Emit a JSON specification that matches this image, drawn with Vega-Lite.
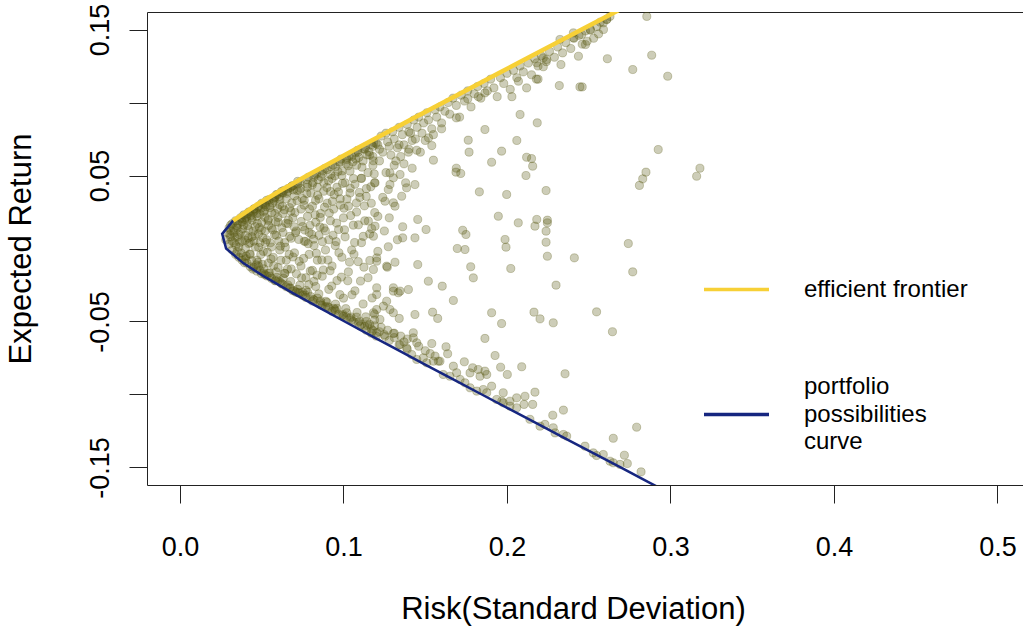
{
  "$schema": "https://vega.github.io/schema/vega-lite/v6.json",
  "autosize": "none",
  "padding": {"left": 147, "top": 12, "right": 0, "bottom": 151},
  "width": 876,
  "height": 473,
  "background": "white",
  "config": {
    "view": {"stroke": "#222", "strokeWidth": 1},
    "font": "Liberation Sans",
    "axis": {"labelFont": "Liberation Sans", "titleFont": "Liberation Sans", "labelColor": "black", "titleColor": "black", "tickColor": "#222", "domain": false, "grid": false, "labelFontSize": 27, "titleFontSize": 31, "titleFontWeight": "normal", "tickSize": 18, "labelFlush": false, "labelOverlap": false},
    "legend": {"labelFont": "Liberation Sans", "labelFontSize": 24, "labelColor": "black"}
  },
  "datasets": {
    "pts": [
      {"s":0.028,"r":0.006},{"s":0.029,"r":0.011},{"s":0.030,"r":0.003},{"s":0.030,"r":0.014},{"s":0.031,"r":0.008},{"s":0.032,"r":-0.001},{"s":0.032,"r":0.017},{"s":0.033,"r":0.011},{"s":0.033,"r":0.004},{"s":0.034,"r":-0.004},{"s":0.034,"r":0.019},{"s":0.035,"r":0.008},{"s":0.035,"r":0.014},{"s":0.036,"r":0.001},{"s":0.036,"r":-0.006},{"s":0.037,"r":0.021},{"s":0.037,"r":0.011},{"s":0.038,"r":0.005},{"s":0.038,"r":-0.008},{"s":0.039,"r":0.016},{"s":0.039,"r":0.023},{"s":0.040,"r":0.000},{"s":0.040,"r":0.009},{"s":0.041,"r":-0.010},{"s":0.041,"r":0.019},{"s":0.042,"r":0.013},{"s":0.042,"r":0.025},{"s":0.043,"r":0.004},{"s":0.043,"r":-0.004},{"s":0.044,"r":0.021},{"s":0.044,"r":0.008},{"s":0.045,"r":-0.013},{"s":0.045,"r":0.027},{"s":0.046,"r":0.015},{"s":0.046,"r":0.001},{"s":0.047,"r":0.022},{"s":0.047,"r":-0.008},{"s":0.048,"r":0.010},{"s":0.048,"r":0.029},{"s":0.049,"r":-0.015},{"s":0.049,"r":0.004},{"s":0.050,"r":0.018},{"s":0.050,"r":0.031},{"s":0.051,"r":-0.002},{"s":0.051,"r":0.025},{"s":0.052,"r":0.012},{"s":0.052,"r":-0.018},{"s":0.053,"r":0.033},{"s":0.053,"r":0.006},{"s":0.054,"r":-0.010},{"s":0.054,"r":0.020},{"s":0.055,"r":0.028},{"s":0.055,"r":-0.019},{"s":0.056,"r":0.014},{"s":0.056,"r":0.001},{"s":0.057,"r":0.034},{"s":0.057,"r":-0.006},{"s":0.058,"r":0.024},{"s":0.058,"r":-0.022},{"s":0.059,"r":0.009},{"s":0.059,"r":0.037},{"s":0.060,"r":-0.013},{"s":0.060,"r":0.018},{"s":0.061,"r":0.030},{"s":0.061,"r":-0.001},{"s":0.062,"r":-0.024},{"s":0.062,"r":0.039},{"s":0.063,"r":0.011},{"s":0.063,"r":0.024},{"s":0.064,"r":-0.017},{"s":0.064,"r":0.004},{"s":0.065,"r":0.034},{"s":0.065,"r":-0.008},{"s":0.066,"r":0.041},{"s":0.066,"r":0.017},{"s":0.067,"r":-0.027},{"s":0.067,"r":0.028},{"s":0.068,"r":0.007},{"s":0.068,"r":-0.014},{"s":0.069,"r":0.043},{"s":0.069,"r":0.021},{"s":0.070,"r":-0.003},{"s":0.070,"r":0.036},{"s":0.071,"r":-0.030},{"s":0.071,"r":0.012},
      {"s":0.045,"r":0.025},{"s":0.052,"r":0.030},{"s":0.058,"r":0.035},{"s":0.063,"r":0.038},{"s":0.068,"r":0.042},{"s":0.048,"r":-0.012},{"s":0.054,"r":-0.017},{"s":0.060,"r":-0.022},{"s":0.066,"r":-0.025},{"s":0.070,"r":-0.029},{"s":0.031,"r":0.016},{"s":0.036,"r":0.019},{"s":0.041,"r":0.022},{"s":0.040,"r":-0.007},{"s":0.035,"r":-0.002},
      {"s":0.0305,"r":0.0095},{"s":0.0318,"r":0.0052},{"s":0.0327,"r":0.0138},{"s":0.0342,"r":0.0021},{"s":0.0356,"r":0.0167},{"s":0.0361,"r":0.0098},{"s":0.0374,"r":-0.0031},{"s":0.0383,"r":0.0135},{"s":0.0395,"r":0.0198},{"s":0.0398,"r":0.0057},
      {"s":0.0405,"r":-0.0052},{"s":0.0412,"r":0.0157},{"s":0.0421,"r":0.0034},{"s":0.0433,"r":0.0224},{"s":0.0438,"r":-0.0083},{"s":0.0447,"r":0.0118},{"s":0.0452,"r":0.0051},{"s":0.0461,"r":0.0263},{"s":0.0466,"r":-0.0112},{"s":0.0473,"r":0.0172},{"s":0.0481,"r":0.0008},{"s":0.0489,"r":0.0236},{"s":0.0494,"r":-0.0041},{"s":0.0498,"r":0.0127},
      {"s":0.0507,"r":0.0073},{"s":0.0513,"r":-0.0139},{"s":0.0519,"r":0.0214},{"s":0.0526,"r":0.0287},{"s":0.0534,"r":-0.0025},{"s":0.0541,"r":0.0158},{"s":0.0547,"r":-0.0167},{"s":0.0552,"r":0.0039},{"s":0.0561,"r":0.0245},{"s":0.0566,"r":0.0311},{"s":0.0573,"r":-0.0118},{"s":0.0579,"r":0.0094},{"s":0.0585,"r":0.0182},{"s":0.0592,"r":-0.0198},{"s":0.0597,"r":0.0273},
      {"s":0.0604,"r":0.0051},{"s":0.0611,"r":0.0336},{"s":0.0617,"r":-0.0081},{"s":0.0623,"r":0.0142},{"s":0.0631,"r":-0.0203},{"s":0.0638,"r":0.0265},{"s":0.0644,"r":0.0009},{"s":0.0652,"r":0.0378},{"s":0.0657,"r":-0.0142},{"s":0.0663,"r":0.0195},{"s":0.0671,"r":0.0083},{"s":0.0677,"r":-0.0226},{"s":0.0684,"r":0.0312},{"s":0.0691,"r":-0.0058},{"s":0.0697,"r":0.0149},
      {"s":0.0703,"r":0.0247},{"s":0.0712,"r":-0.0173},{"s":0.0718,"r":0.0396},{"s":0.0726,"r":0.0062},{"s":0.0733,"r":-0.0251},{"s":0.0741,"r":0.0185},{"s":0.0748,"r":0.0342},{"s":0.0756,"r":-0.0068},{"s":0.0763,"r":0.0126},{"s":0.0771,"r":-0.0287},{"s":0.0779,"r":0.0419},{"s":0.0784,"r":0.0033},{"s":0.0792,"r":0.0271},{"s":0.0797,"r":-0.0154},
      {"s":0.0806,"r":0.0097},{"s":0.0813,"r":0.0452},{"s":0.0819,"r":-0.0225},{"s":0.0827,"r":0.0231},{"s":0.0834,"r":-0.0033},{"s":0.0842,"r":0.0364},{"s":0.0849,"r":-0.0311},{"s":0.0856,"r":0.0148},{"s":0.0863,"r":0.0491},{"s":0.0871,"r":0.0047},{"s":0.0877,"r":-0.0147},{"s":0.0884,"r":0.0283},{"s":0.0892,"r":-0.0362},{"s":0.0898,"r":0.0418},
      {"s":0.0905,"r":-0.0079},{"s":0.0913,"r":0.0243},{"s":0.0921,"r":0.0506},{"s":0.0928,"r":-0.0257},{"s":0.0936,"r":0.0091},{"s":0.0943,"r":0.0369},{"s":0.0951,"r":-0.0381},{"s":0.0958,"r":0.0174},{"s":0.0966,"r":0.0528},{"s":0.0972,"r":-0.0029},{"s":0.0981,"r":0.0297},{"s":0.0987,"r":-0.0196},{"s":0.0994,"r":0.0446},
      {"s":0.1006,"r":0.0128},{"s":0.1014,"r":-0.0412},{"s":0.1021,"r":0.0339},{"s":0.1029,"r":0.0567},{"s":0.1037,"r":-0.0093},{"s":0.1044,"r":0.0226},{"s":0.1052,"r":-0.0317},{"s":0.1061,"r":0.0479},{"s":0.1068,"r":0.0041},{"s":0.1076,"r":0.0613},{"s":0.1083,"r":-0.0438},{"s":0.1091,"r":0.0162},{"s":0.1097,"r":0.0384},
      {"s":0.1104,"r":-0.0223},{"s":0.1113,"r":0.0557},{"s":0.1121,"r":0.0083},{"s":0.1128,"r":0.0292},{"s":0.1136,"r":-0.0468},{"s":0.1144,"r":0.0641},{"s":0.1152,"r":0.0188},{"s":0.1161,"r":-0.0082},{"s":0.1167,"r":0.0423},{"s":0.1175,"r":-0.0339},{"s":0.1182,"r":0.0601},{"s":0.1191,"r":0.0246},
      {"s":0.043,"r":-0.0125},{"s":0.047,"r":-0.0155},{"s":0.051,"r":-0.0168},{"s":0.056,"r":-0.0205},{"s":0.061,"r":-0.0228},{"s":0.065,"r":-0.0262},{"s":0.069,"r":-0.0289},{"s":0.073,"r":-0.0305},{"s":0.077,"r":-0.0335},{"s":0.082,"r":-0.0352},{"s":0.086,"r":-0.0385},{"s":0.091,"r":-0.0405},{"s":0.095,"r":-0.0428},{"s":0.1,"r":-0.0465},{"s":0.104,"r":-0.0478},{"s":0.109,"r":-0.0505},{"s":0.113,"r":-0.0532},{"s":0.118,"r":-0.0562},
      {"s":0.0415,"r":0.0238},{"s":0.0455,"r":0.0272},{"s":0.0505,"r":0.0305},{"s":0.0545,"r":0.0335},{"s":0.0595,"r":0.0368},{"s":0.0635,"r":0.0398},{"s":0.0685,"r":0.0428},{"s":0.0735,"r":0.0455},{"s":0.0785,"r":0.0488},{"s":0.0835,"r":0.0512},{"s":0.0885,"r":0.0548},{"s":0.0935,"r":0.0572},{"s":0.0985,"r":0.0612},{"s":0.1035,"r":0.0633},{"s":0.1085,"r":0.0672},{"s":0.1135,"r":0.0695},{"s":0.1185,"r":0.0726},
      {"s":0.0312,"r":0.0121},{"s":0.0335,"r":0.0079},{"s":0.0348,"r":0.0156},{"s":0.0366,"r":0.0042},{"s":0.0379,"r":0.0182},{"s":0.0388,"r":-0.0057},{"s":0.0402,"r":0.0213},{"s":0.0417,"r":0.0071},{"s":0.0426,"r":-0.0038},{"s":0.0442,"r":0.0193},{"s":0.0458,"r":0.0089},{"s":0.0469,"r":0.0241},{"s":0.0477,"r":-0.0095},{"s":0.0486,"r":0.0143},{"s":0.0496,"r":0.0276},
      {"s":0.0503,"r":-0.0108},{"s":0.0516,"r":0.0258},{"s":0.0523,"r":0.0041},{"s":0.0538,"r":0.0192},{"s":0.0549,"r":0.0296},{"s":0.0557,"r":-0.0072},{"s":0.0568,"r":0.0127},{"s":0.0576,"r":0.0329},{"s":0.0588,"r":-0.0159},{"s":0.0599,"r":0.0213},{"s":0.0607,"r":0.0357},{"s":0.0614,"r":0.0016},{"s":0.0626,"r":0.0289},{"s":0.0641,"r":-0.0171},{"s":0.0648,"r":0.0173},{"s":0.0659,"r":0.0392},{"s":0.0668,"r":-0.0041},{"s":0.0679,"r":0.0254},{"s":0.0694,"r":0.0401},
      {"s":0.0707,"r":0.0108},{"s":0.0716,"r":0.0328},{"s":0.0729,"r":-0.0088},{"s":0.0738,"r":0.0412},{"s":0.0744,"r":-0.0201},{"s":0.0759,"r":0.0297},{"s":0.0768,"r":0.0048},{"s":0.0776,"r":0.0376},{"s":0.0788,"r":-0.0247},{"s":0.0795,"r":0.0159},{"s":0.0809,"r":0.0436},{"s":0.0817,"r":0.0064},{"s":0.0829,"r":0.0329},{"s":0.0838,"r":-0.0183},{"s":0.0846,"r":0.0472},{"s":0.0858,"r":0.0213},{"s":0.0867,"r":-0.0079},{"s":0.0879,"r":0.0392},{"s":0.0889,"r":0.0121},
      {"s":0.0909,"r":0.0463},{"s":0.0918,"r":-0.0152},{"s":0.0932,"r":0.0324},{"s":0.0947,"r":0.0497},{"s":0.0955,"r":0.0047},{"s":0.0969,"r":0.0388},{"s":0.0978,"r":-0.0316},{"s":0.0991,"r":0.0531},{"s":0.1003,"r":0.0276},{"s":0.1017,"r":0.0582},{"s":0.1026,"r":-0.0221},{"s":0.1041,"r":0.0413},{"s":0.1057,"r":0.0593},{"s":0.1064,"r":-0.0039},{"s":0.1079,"r":0.0312},{"s":0.1094,"r":0.0624},{"s":0.1108,"r":0.0481},{"s":0.1125,"r":-0.0128},{"s":0.1139,"r":0.0357},{"s":0.1156,"r":0.0662},{"s":0.1172,"r":0.0136},{"s":0.1188,"r":0.0511},
      {"s":0.0395,"r":-0.0098},{"s":0.0445,"r":-0.0141},{"s":0.0498,"r":-0.0172},{"s":0.0532,"r":-0.0188},{"s":0.0585,"r":-0.0221},{"s":0.0628,"r":-0.0245},{"s":0.0675,"r":-0.0271},{"s":0.0722,"r":-0.0302},{"s":0.0766,"r":-0.0319},{"s":0.0813,"r":-0.0348},{"s":0.0858,"r":-0.0371},{"s":0.0903,"r":-0.0398},{"s":0.0948,"r":-0.0419},{"s":0.0997,"r":-0.0452},{"s":0.1046,"r":-0.0469},{"s":0.1098,"r":-0.0497},{"s":0.1147,"r":-0.0526},
      {"s":0.0378,"r":0.0205},{"s":0.0428,"r":0.0251},{"s":0.0478,"r":0.0282},{"s":0.0528,"r":0.0316},{"s":0.0578,"r":0.0351},{"s":0.0624,"r":0.0382},{"s":0.0674,"r":0.0416},{"s":0.0722,"r":0.0442},{"s":0.0772,"r":0.0472},{"s":0.0822,"r":0.0503},{"s":0.0872,"r":0.0531},{"s":0.0922,"r":0.0561},{"s":0.0972,"r":0.0592},{"s":0.1022,"r":0.0622},{"s":0.1072,"r":0.0655},{"s":0.1122,"r":0.0682},{"s":0.1172,"r":0.0712},
      {"s":0.072,"r":0.046},{"s":0.073,"r":0.040},{"s":0.074,"r":0.027},{"s":0.074,"r":-0.012},{"s":0.075,"r":0.015},{"s":0.075,"r":-0.030},{"s":0.076,"r":0.005},{"s":0.076,"r":0.033},{"s":0.077,"r":-0.020},{"s":0.078,"r":0.044},{"s":0.078,"r":0.022},{"s":0.079,"r":-0.004},{"s":0.079,"r":0.011},{"s":0.080,"r":-0.033},{"s":0.080,"r":0.038},{"s":0.081,"r":0.029},{"s":0.081,"r":-0.015},{"s":0.082,"r":0.049},{"s":0.082,"r":0.002},{"s":0.083,"r":0.018},{"s":0.083,"r":-0.026},{"s":0.084,"r":0.042},{"s":0.084,"r":-0.008},{"s":0.085,"r":0.009},{"s":0.085,"r":0.034},{"s":0.086,"r":-0.036},{"s":0.086,"r":0.024},{"s":0.087,"r":0.051},{"s":0.087,"r":-0.019},{"s":0.088,"r":0.014},{"s":0.088,"r":0.045},{"s":0.089,"r":-0.001},{"s":0.089,"r":-0.040},{"s":0.090,"r":0.031},{"s":0.090,"r":0.054},{"s":0.091,"r":0.006},{"s":0.091,"r":-0.028},{"s":0.092,"r":0.039},{"s":0.092,"r":0.019},{"s":0.093,"r":-0.012},{"s":0.093,"r":0.048},{"s":0.094,"r":-0.041},{"s":0.094,"r":0.027},{"s":0.095,"r":0.056},{"s":0.095,"r":0.002},{"s":0.096,"r":-0.022},{"s":0.096,"r":0.042},{"s":0.097,"r":0.013},{"s":0.097,"r":-0.045},{"s":0.098,"r":0.034},{"s":0.098,"r":0.059},{"s":0.099,"r":-0.006},{"s":0.099,"r":0.050},{"s":0.100,"r":0.021},{"s":0.100,"r":-0.034},{"s":0.101,"r":0.045},{"s":0.101,"r":0.008},{"s":0.102,"r":0.061},{"s":0.102,"r":-0.047},{"s":0.103,"r":0.029},{"s":0.103,"r":-0.016},{"s":0.104,"r":0.053},{"s":0.104,"r":0.038},{"s":0.105,"r":-0.001},{"s":0.105,"r":0.063},{"s":0.106,"r":-0.050},{"s":0.106,"r":0.016},{"s":0.107,"r":0.044},{"s":0.107,"r":-0.029},{"s":0.108,"r":0.057},{"s":0.108,"r":0.025},{"s":0.109,"r":-0.009},{"s":0.109,"r":0.066},{"s":0.110,"r":0.035},{"s":0.110,"r":-0.053},{"s":0.111,"r":0.048},{"s":0.111,"r":0.004},{"s":0.112,"r":0.060},{"s":0.112,"r":-0.038},{"s":0.113,"r":0.019},{"s":0.113,"r":0.068},{"s":0.114,"r":0.041},{"s":0.114,"r":-0.056},{"s":0.115,"r":0.052},{"s":0.115,"r":-0.020},{"s":0.116,"r":0.064},{"s":0.116,"r":0.010},{"s":0.117,"r":-0.058},{"s":0.117,"r":0.031},{"s":0.118,"r":0.070},{"s":0.118,"r":0.057},{"s":0.119,"r":-0.045},{"s":0.119,"r":0.045},{"s":0.120,"r":0.072},{"s":0.120,"r":-0.060},{"s":0.121,"r":0.022},
      {"s":0.121,"r":0.071},{"s":0.123,"r":0.077},{"s":0.124,"r":0.066},{"s":0.126,"r":0.079},{"s":0.127,"r":0.073},{"s":0.129,"r":0.064},{"s":0.130,"r":0.080},{"s":0.131,"r":0.075},{"s":0.133,"r":0.069},{"s":0.134,"r":0.083},{"s":0.136,"r":0.078},{"s":0.137,"r":0.071},{"s":0.139,"r":0.085},{"s":0.140,"r":0.080},{"s":0.142,"r":0.074},{"s":0.143,"r":0.088},{"s":0.145,"r":0.083},{"s":0.146,"r":0.090},{"s":0.148,"r":0.079},{"s":0.149,"r":0.086},{"s":0.151,"r":0.093},{"s":0.152,"r":0.088},{"s":0.154,"r":0.082},{"s":0.156,"r":0.095},{"s":0.157,"r":0.090},{"s":0.159,"r":0.097},{"s":0.160,"r":0.086},{"s":0.162,"r":0.094},{"s":0.164,"r":0.100},{"s":0.165,"r":0.092},{"s":0.167,"r":0.103},{"s":0.169,"r":0.098},{"s":0.171,"r":0.090},{"s":0.172,"r":0.105},{"s":0.174,"r":0.101},{"s":0.176,"r":0.108},{"s":0.178,"r":0.097},{"s":0.180,"r":0.106},{"s":0.182,"r":0.111},{"s":0.184,"r":0.103},{"s":0.186,"r":0.113},{"s":0.188,"r":0.108},{"s":0.190,"r":0.116},{"s":0.192,"r":0.110},{"s":0.194,"r":0.104},{"s":0.196,"r":0.117},{"s":0.198,"r":0.113},{"s":0.200,"r":0.120},{"s":0.202,"r":0.109},{"s":0.204,"r":0.122},{"s":0.206,"r":0.117},{"s":0.208,"r":0.125},{"s":0.210,"r":0.121},{"s":0.213,"r":0.127},{"s":0.215,"r":0.119},{"s":0.217,"r":0.130},{"s":0.219,"r":0.125},{"s":0.221,"r":0.132},{"s":0.224,"r":0.128},{"s":0.226,"r":0.135},{"s":0.229,"r":0.131},{"s":0.231,"r":0.138},{"s":0.234,"r":0.134},{"s":0.236,"r":0.141},{"s":0.239,"r":0.137},{"s":0.241,"r":0.144},{"s":0.244,"r":0.146},{"s":0.246,"r":0.140},{"s":0.248,"r":0.149},{"s":0.251,"r":0.150},{"s":0.253,"r":0.144},{"s":0.255,"r":0.152},{"s":0.257,"r":0.155},{"s":0.259,"r":0.150},{"s":0.261,"r":0.157},{"s":0.263,"r":0.159},{"s":0.256,"r":0.147},{"s":0.249,"r":0.142},{"s":0.233,"r":0.126},{"s":0.218,"r":0.116},{"s":0.203,"r":0.104},
      {"s":0.072,"r":-0.028},{"s":0.075,"r":-0.032},{"s":0.078,"r":-0.030},{"s":0.081,"r":-0.036},{"s":0.084,"r":-0.034},{"s":0.087,"r":-0.039},{"s":0.090,"r":-0.037},{"s":0.093,"r":-0.043},{"s":0.096,"r":-0.041},{"s":0.099,"r":-0.046},{"s":0.102,"r":-0.044},{"s":0.105,"r":-0.049},{"s":0.108,"r":-0.047},{"s":0.111,"r":-0.052},{"s":0.114,"r":-0.050},{"s":0.117,"r":-0.055},{"s":0.119,"r":-0.053},{"s":0.122,"r":-0.057},{"s":0.125,"r":-0.059},{"s":0.128,"r":-0.063},{"s":0.131,"r":-0.061},{"s":0.134,"r":-0.066},{"s":0.137,"r":-0.064},{"s":0.139,"r":-0.069},
      {"s":0.116,"r":-0.052},{"s":0.119,"r":-0.049},{"s":0.123,"r":-0.054},{"s":0.127,"r":-0.056},{"s":0.131,"r":-0.058},{"s":0.135,"r":-0.060},{"s":0.139,"r":-0.062},{"s":0.146,"r":-0.067},{"s":0.150,"r":-0.070},{"s":0.153,"r":-0.072},
      {"s":0.1203,"r":-0.0577},{"s":0.1254,"r":-0.0601},{"s":0.1305,"r":-0.0582},{"s":0.1427,"r":-0.0577},{"s":0.1427,"r":-0.0612},{"s":0.1448,"r":-0.0646},{"s":0.1346,"r":-0.0658},{"s":0.1386,"r":-0.068},{"s":0.1417,"r":-0.0726},{"s":0.1448,"r":-0.076},{"s":0.1488,"r":-0.0749},{"s":0.1509,"r":-0.0783},{"s":0.155,"r":-0.0772},{"s":0.159,"r":-0.0772},{"s":0.161,"r":-0.0863},{"s":0.1651,"r":-0.0875},{"s":0.1692,"r":-0.0851},{"s":0.1713,"r":-0.0897},{"s":0.1743,"r":-0.092},{"s":0.1774,"r":-0.0954},{"s":0.1815,"r":-0.0977},{"s":0.1855,"r":-0.0966},{"s":0.1876,"r":-0.0988},{"s":0.1937,"r":-0.1034},{"s":0.1977,"r":-0.1057},{"s":0.2018,"r":-0.108},{"s":0.2059,"r":-0.1091},
      {"s":0.1865,"r":-0.0616},{"s":0.1927,"r":-0.0733},{"s":0.209,"r":-0.081},{"s":0.1961,"r":-0.0813},{"s":0.2002,"r":-0.0863},{"s":0.154,"r":-0.0651},{"s":0.1627,"r":-0.0673},{"s":0.1637,"r":-0.0721},{"s":0.158,"r":-0.0772},{"s":0.156,"r":-0.0737},{"s":0.1672,"r":-0.0806},{"s":0.1739,"r":-0.0776},{"s":0.179,"r":-0.0817},{"s":0.1824,"r":-0.0829},{"s":0.1865,"r":-0.084},{"s":0.1876,"r":-0.0863},{"s":0.1835,"r":-0.0875},{"s":0.1774,"r":-0.0852},{"s":0.1906,"r":-0.0943},{"s":0.1977,"r":-0.0988},{"s":0.2059,"r":-0.1023},{"s":0.211,"r":-0.1012},{"s":0.2104,"r":-0.1068},{"s":0.2018,"r":-0.1046},{"s":0.1968,"r":-0.1046},
      {"s":0.2202,"r":-0.1217},{"s":0.2232,"r":-0.1205},{"s":0.2283,"r":-0.1228},{"s":0.2294,"r":-0.1263},{"s":0.2345,"r":-0.1274},{"s":0.2365,"r":-0.1285},{"s":0.2477,"r":-0.1354},{"s":0.2528,"r":-0.14},{"s":0.2548,"r":-0.1418},{"s":0.2589,"r":-0.1411},{"s":0.263,"r":-0.1457},{"s":0.265,"r":-0.1468},{"s":0.2691,"r":-0.1479},{"s":0.214,"r":-0.117},
      {"s":0.2645,"r":-0.057},{"s":0.2355,"r":-0.0858},{"s":0.2171,"r":-0.0984},{"s":0.2157,"r":-0.1068},{"s":0.228,"r":-0.1142},{"s":0.2345,"r":-0.1107},{"s":0.2793,"r":-0.1224},{"s":0.265,"r":-0.13},{"s":0.2718,"r":-0.1416},{"s":0.2736,"r":-0.1473},{"s":0.282,"r":-0.153},
      {"s":0.208,"r":0.0918},{"s":0.212,"r":0.110},{"s":0.207,"r":0.1146},{"s":0.1865,"r":0.0815},{"s":0.1763,"r":0.0742},{"s":0.1768,"r":0.066},{"s":0.1967,"r":0.0667},{"s":0.206,"r":0.074},{"s":0.1906,"r":0.0591},{"s":0.212,"r":0.0625},{"s":0.155,"r":0.0605},{"s":0.154,"r":0.0705},{"s":0.1448,"r":0.0673},{"s":0.1397,"r":0.066},{"s":0.169,"r":0.0895},{"s":0.169,"r":0.055},{"s":0.176,"r":0.1025},{"s":0.1825,"r":0.104},{"s":0.1865,"r":0.1066},{"s":0.152,"r":0.0758},
      {"s":0.2855,"r":0.159},{"s":0.251,"r":0.1495},{"s":0.248,"r":0.1397},{"s":0.2437,"r":0.1317},{"s":0.2614,"r":0.130},{"s":0.2885,"r":0.1324},{"s":0.2769,"r":0.1226},{"s":0.2983,"r":0.118},{"s":0.2446,"r":0.1107},{"s":0.246,"r":0.1107},{"s":0.232,"r":0.1116},{"s":0.219,"r":0.116},{"s":0.2185,"r":0.0861},{"s":0.2925,"r":0.0678},{"s":0.215,"r":0.0616},{"s":0.2157,"r":0.0564},{"s":0.318,"r":0.055},{"s":0.2222,"r":0.1306},{"s":0.2243,"r":0.1295},{"s":0.2222,"r":0.1245},{"s":0.2182,"r":0.1272},{"s":0.2324,"r":0.1432},{"s":0.2406,"r":0.1443},{"s":0.2406,"r":0.1477},{"s":0.2457,"r":0.1466},{"s":0.2589,"r":0.1546},{"s":0.261,"r":0.1568},
      {"s":0.285,"r":0.0523},{"s":0.283,"r":0.0477},{"s":0.281,"r":0.0432},{"s":0.316,"r":0.0495},{"s":0.2239,"r":0.0397},{"s":0.2182,"r":0.0199},{"s":0.2171,"r":0.0153},{"s":0.2247,"r":0.0194},{"s":0.2247,"r":0.0176},{"s":0.2239,"r":0.0119},{"s":0.2239,"r":0.0043},{"s":0.2247,"r":-0.0053},{"s":0.2412,"r":-0.0064},{"s":0.2742,"r":0.0034},{"s":0.2769,"r":-0.016},{"s":0.23,"r":-0.0251},{"s":0.2165,"r":-0.0436},{"s":0.2202,"r":-0.0482},{"s":0.2283,"r":-0.0509},{"s":0.2548,"r":-0.0434},
      {"s":0.1688,"r":0.0523},{"s":0.1717,"r":0.0514},{"s":0.1831,"r":0.0388},{"s":0.1998,"r":0.037},{"s":0.2116,"r":0.05},{"s":0.1947,"r":0.0221},{"s":0.2069,"r":0.0176},{"s":0.1988,"r":0.0062},{"s":0.1994,"r":0.0009},{"s":0.1729,"r":0.0125},{"s":0.1749,"r":0.0096},{"s":0.1696,"r":0.0},{"s":0.1743,"r":-0.0007},{"s":0.1778,"r":-0.0125},{"s":0.1794,"r":-0.0201},{"s":0.2023,"r":-0.0137},{"s":0.1454,"r":0.0199},{"s":0.1505,"r":0.013},{"s":0.1437,"r":0.0073},{"s":0.1362,"r":0.0149},{"s":0.1362,"r":0.0073},{"s":0.1274,"r":0.0012},{"s":0.1454,"r":-0.011},{"s":0.1315,"r":-0.0094},{"s":0.1268,"r":-0.0128},{"s":0.1519,"r":-0.0224},{"s":0.1604,"r":-0.0258},{"s":0.1672,"r":-0.0356},{"s":0.1906,"r":-0.044},{"s":0.1967,"r":-0.0514},{"s":0.1545,"r":-0.0436},{"s":0.1576,"r":-0.0479},{"s":0.1437,"r":-0.0452},{"s":0.1341,"r":-0.0479},{"s":0.1397,"r":-0.0281},{"s":0.1335,"r":-0.0303},{"s":0.1305,"r":-0.0269},{"s":0.1437,"r":0.0438},{"s":0.1386,"r":0.0416},{"s":0.1356,"r":0.0358},{"s":0.1305,"r":0.0313},{"s":0.1254,"r":0.0324},{"s":0.1315,"r":0.029},{"s":0.1284,"r":0.0438},{"s":0.1274,"r":0.0404},{"s":0.1193,"r":0.045},{"s":0.1346,"r":0.0507},{"s":0.1305,"r":0.0484},{"s":0.1284,"r":0.0518},{"s":0.1193,"r":0.0153},{"s":0.1183,"r":0.0084},{"s":0.1203,"r":-0.0064},{"s":0.1203,"r":-0.0087},{"s":0.1264,"r":-0.0121},{"s":0.1183,"r":-0.0144},{"s":0.1203,"r":-0.0269},{"s":0.1203,"r":-0.0315},{"s":0.1264,"r":-0.0361},{"s":0.1305,"r":-0.0292},{"s":0.1346,"r":-0.0292},{"s":0.1244,"r":-0.0395},{"s":0.1284,"r":-0.0418},{"s":0.1203,"r":-0.0418},{"s":0.1183,"r":-0.044},{"s":0.1223,"r":-0.0486},{"s":0.1305,"r":-0.044},
      {"s":0.122,"r":0.060},{"s":0.126,"r":0.052},{"s":0.131,"r":0.057},{"s":0.135,"r":0.063},{"s":0.124,"r":0.035},{"s":0.128,"r":0.021},{"s":0.133,"r":0.006},{"s":0.121,"r":-0.002},{"s":0.125,"r":0.012},{"s":0.138,"r":0.045},{"s":0.142,"r":0.055},{"s":0.147,"r":0.066},{"s":0.150,"r":0.074},{"s":0.155,"r":0.078},{"s":0.140,"r":0.068},{"s":0.134,"r":0.071},{"s":0.160,"r":0.082},{"s":0.118,"r":0.063},{"s":0.122,"r":0.068},{"s":0.128,"r":0.070},{"s":0.132,"r":0.060},{"s":0.137,"r":0.058},{"s":0.141,"r":0.079},{"s":0.144,"r":0.075}
    ],
    "blue": [
      {"s":0.2797,"r":0.17,"series":"portfolio possibilities curve"},{"s":0.2627,"r":0.16,"series":"portfolio possibilities curve"},{"s":0.2457,"r":0.15,"series":"portfolio possibilities curve"},{"s":0.2287,"r":0.14,"series":"portfolio possibilities curve"},{"s":0.2117,"r":0.13,"series":"portfolio possibilities curve"},{"s":0.1948,"r":0.12,"series":"portfolio possibilities curve"},{"s":0.1778,"r":0.11,"series":"portfolio possibilities curve"},{"s":0.161,"r":0.10,"series":"portfolio possibilities curve"},{"s":0.1441,"r":0.09,"series":"portfolio possibilities curve"},{"s":0.1273,"r":0.08,"series":"portfolio possibilities curve"},{"s":0.1106,"r":0.07,"series":"portfolio possibilities curve"},{"s":0.0941,"r":0.06,"series":"portfolio possibilities curve"},{"s":0.0778,"r":0.05,"series":"portfolio possibilities curve"},{"s":0.0619,"r":0.04,"series":"portfolio possibilities curve"},{"s":0.0469,"r":0.03,"series":"portfolio possibilities curve"},{"s":0.0325,"r":0.019,"series":"portfolio possibilities curve"},{"s":0.0258,"r":0.01,"series":"portfolio possibilities curve"},{"s":0.0282,"r":0.0,"series":"portfolio possibilities curve"},{"s":0.0387,"r":-0.01,"series":"portfolio possibilities curve"},{"s":0.0527,"r":-0.02,"series":"portfolio possibilities curve"},{"s":0.0682,"r":-0.03,"series":"portfolio possibilities curve"},{"s":0.0843,"r":-0.04,"series":"portfolio possibilities curve"},{"s":0.1007,"r":-0.05,"series":"portfolio possibilities curve"},{"s":0.1173,"r":-0.06,"series":"portfolio possibilities curve"},{"s":0.134,"r":-0.07,"series":"portfolio possibilities curve"},{"s":0.1508,"r":-0.08,"series":"portfolio possibilities curve"},{"s":0.1677,"r":-0.09,"series":"portfolio possibilities curve"},{"s":0.1846,"r":-0.10,"series":"portfolio possibilities curve"},{"s":0.2016,"r":-0.11,"series":"portfolio possibilities curve"},{"s":0.2185,"r":-0.12,"series":"portfolio possibilities curve"},{"s":0.2355,"r":-0.13,"series":"portfolio possibilities curve"},{"s":0.2525,"r":-0.14,"series":"portfolio possibilities curve"},{"s":0.2695,"r":-0.15,"series":"portfolio possibilities curve"},{"s":0.2865,"r":-0.16,"series":"portfolio possibilities curve"},{"s":0.3035,"r":-0.17,"series":"portfolio possibilities curve"}
    ],
    "yellow": [
      {"s":0.0325,"r":0.019,"series":"efficient frontier"},{"s":0.0469,"r":0.03,"series":"efficient frontier"},{"s":0.0619,"r":0.04,"series":"efficient frontier"},{"s":0.0778,"r":0.05,"series":"efficient frontier"},{"s":0.0941,"r":0.06,"series":"efficient frontier"},{"s":0.1106,"r":0.07,"series":"efficient frontier"},{"s":0.1273,"r":0.08,"series":"efficient frontier"},{"s":0.1441,"r":0.09,"series":"efficient frontier"},{"s":0.161,"r":0.10,"series":"efficient frontier"},{"s":0.1778,"r":0.11,"series":"efficient frontier"},{"s":0.1948,"r":0.12,"series":"efficient frontier"},{"s":0.2117,"r":0.13,"series":"efficient frontier"},{"s":0.2287,"r":0.14,"series":"efficient frontier"},{"s":0.2457,"r":0.15,"series":"efficient frontier"},{"s":0.2627,"r":0.16,"series":"efficient frontier"},{"s":0.2797,"r":0.17,"series":"efficient frontier"}
    ]
  },
  "layer": [
    {
      "data": {"name": "pts"},
      "mark": {"type": "circle", "size": 66, "fill": "#5a5a14", "fillOpacity": 0.3, "stroke": "#5a5a14", "strokeOpacity": 0.3, "strokeWidth": 1, "clip": true},
      "encoding": {
        "x": {"field": "s", "type": "quantitative", "scale": {"domain": [-0.02018, 0.5156], "nice": false, "zero": false},
              "axis": {"title": "Risk(Standard Deviation)", "values": [0, 0.1, 0.2, 0.3, 0.4, 0.5], "format": ".1f", "labelPadding": 31, "titlePadding": 34, "titleX": 426}},
        "y": {"field": "r", "type": "quantitative", "scale": {"domain": [-0.162, 0.162], "nice": false, "zero": false},
              "axis": {"title": "Expected Return", "values": [-0.15, -0.1, -0.05, 0, 0.05, 0.1, 0.15], "labelExpr": "(datum.value == 0.1 || datum.value == -0.1 || datum.value == 0) ? '' : (datum.value < 0 ? '-' : '') + format(abs(datum.value), '.2f')", "labelAngle": -90, "labelAlign": "center", "labelBaseline": "bottom", "labelPadding": 15, "titlePadding": 49}}
      }
    },
    {
      "data": {"name": "blue"},
      "mark": {"type": "line", "strokeWidth": 2.5, "clip": true},
      "encoding": {
        "x": {"field": "s", "type": "quantitative"},
        "y": {"field": "r", "type": "quantitative"},
        "order": {"field": "r", "type": "quantitative"},
        "color": {"field": "series", "type": "nominal",
                  "scale": {"domain": ["efficient frontier", "portfolio possibilities curve"], "range": ["#f7d036", "#162680"]},
                  "legend": {"title": null, "orient": "none", "legendX": 555, "legendY": 243, "symbolType": "stroke", "symbolSize": 4225, "symbolStrokeWidth": 3.5, "labelOffset": 33, "labelLimit": 400, "rowPadding": 73,
                             "labelExpr": "datum.label == 'portfolio possibilities curve' ? ['portfolio', 'possibilities', 'curve'] : datum.label",
                             "encode": {"labels": {"update": {"lineHeight": {"value": 27.5}, "dy": {"signal": "datum.value == 'portfolio possibilities curve' ? -27.5 : 0"}}}}}}
      }
    },
    {
      "data": {"name": "yellow"},
      "mark": {"type": "line", "strokeWidth": 4.5, "clip": true},
      "encoding": {
        "x": {"field": "s", "type": "quantitative"},
        "y": {"field": "r", "type": "quantitative"},
        "order": {"field": "r", "type": "quantitative"},
        "color": {"field": "series", "type": "nominal"}
      }
    }
  ]
}
